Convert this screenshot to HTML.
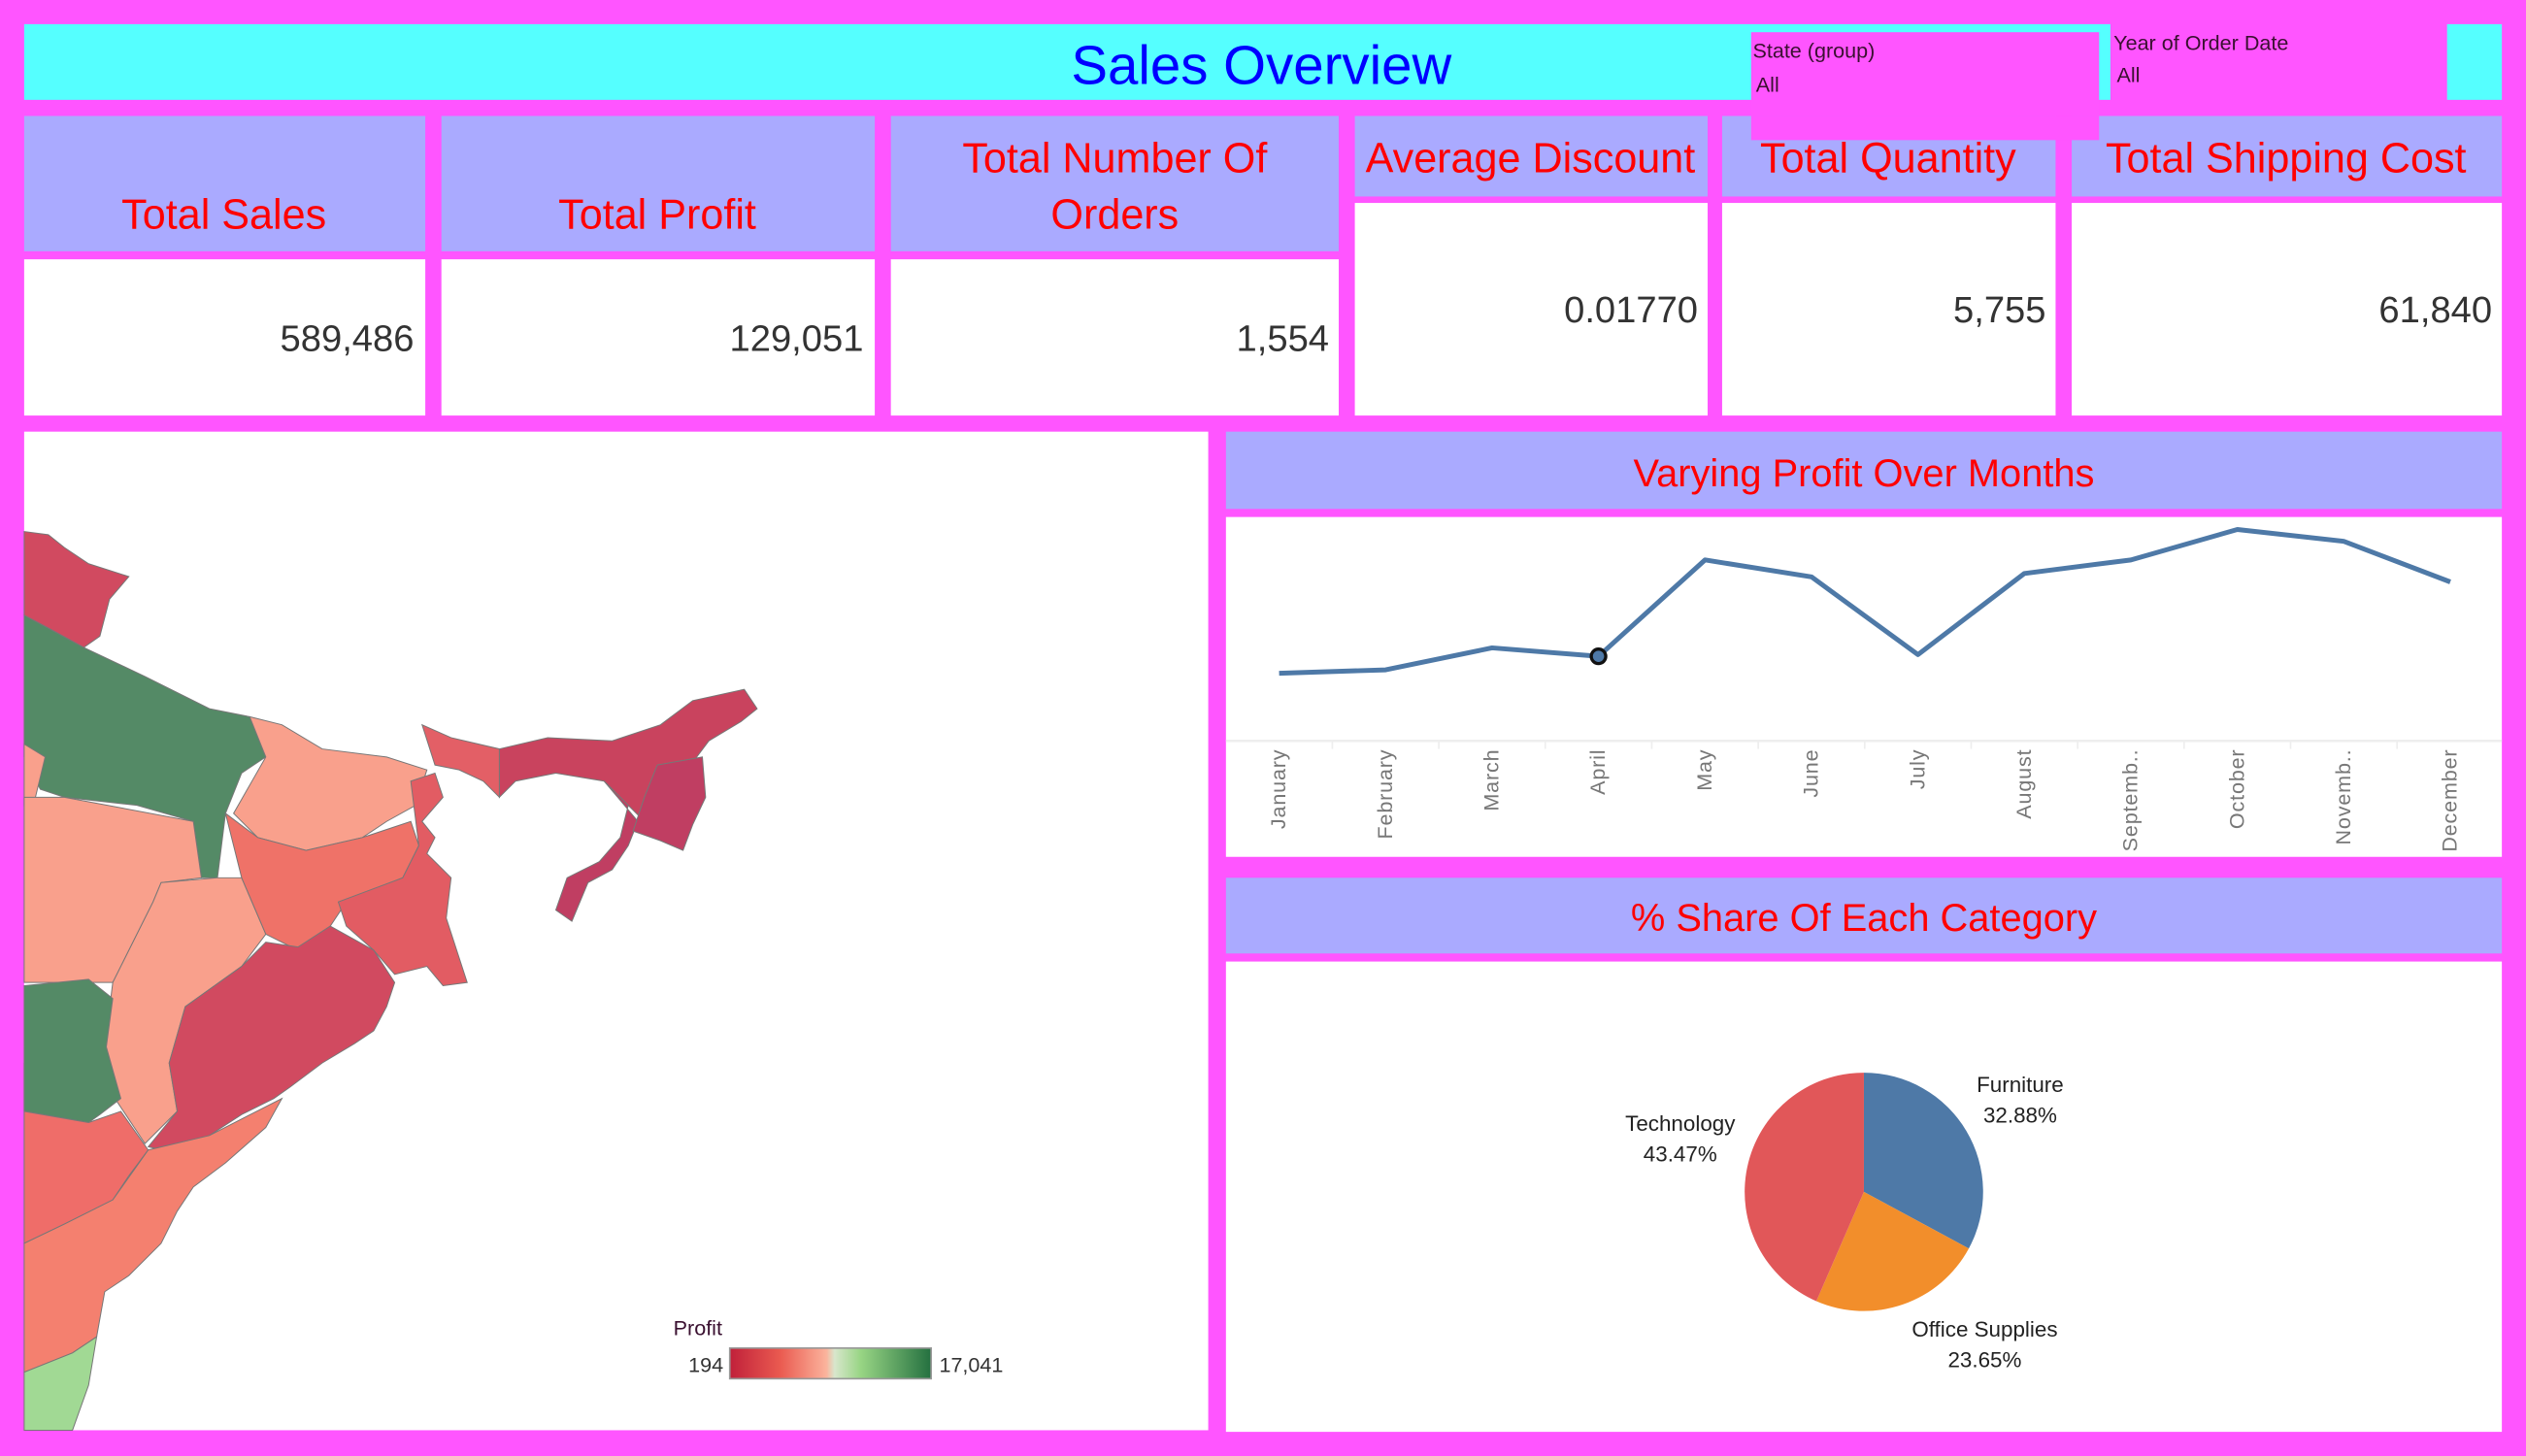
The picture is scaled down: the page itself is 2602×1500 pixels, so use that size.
<!DOCTYPE html>
<html><head><meta charset="utf-8"><style>
html,body{margin:0;padding:0;background:#ff55ff;}
svg{display:block;font-family:"Liberation Sans",sans-serif;}
</style></head><body>
<svg id="dash" width="2602" height="1500" viewBox="0 0 1568 904" preserveAspectRatio="none" xmlns="http://www.w3.org/2000/svg">
<rect x="0" y="0" width="1568" height="904" fill="#ff55ff"/>
<g>
<rect x="15" y="15" width="1295" height="47" fill="#55ffff"/>
<rect x="1519" y="15" width="34" height="47" fill="#55ffff"/>
<text x="783" y="52" text-anchor="middle" font-size="34" fill="#0000ff">Sales Overview</text>
<g>
<rect x="1087" y="20" width="216" height="67" fill="#ff55ff"/>
<text x="1088" y="36" font-size="13" fill="#3a1030">State (group)</text>
<text x="1090" y="57" font-size="13" fill="#3a1030">All</text>
</g>
<g>
<text x="1312" y="31" font-size="13" fill="#3a1030">Year of Order Date</text>
<text x="1314" y="51" font-size="13" fill="#3a1030">All</text>
</g>
</g>
<g font-size="26" fill="#ff0000">
<g>
<rect x="15" y="72" width="249" height="84" fill="#aaaaff"/><rect x="15" y="161" width="249" height="97" fill="#fff"/>
<text x="139" y="142" text-anchor="middle" fill="#ff0000">Total Sales</text>
<text x="257" y="218" text-anchor="end" font-size="23" fill="#333">589,486</text></g>
<g>
<rect x="274" y="72" width="269" height="84" fill="#aaaaff"/><rect x="274" y="161" width="269" height="97" fill="#fff"/>
<text x="408" y="142" text-anchor="middle" fill="#ff0000">Total Profit</text>
<text x="536" y="218" text-anchor="end" font-size="23" fill="#333">129,051</text></g>
<g>
<rect x="553" y="72" width="278" height="84" fill="#aaaaff"/><rect x="553" y="161" width="278" height="97" fill="#fff"/>
<text x="692" y="107" text-anchor="middle" fill="#ff0000">Total Number Of</text>
<text x="692" y="142" text-anchor="middle" fill="#ff0000">Orders</text>
<text x="825" y="218" text-anchor="end" font-size="23" fill="#333">1,554</text></g>
<g>
<rect x="841" y="72" width="219" height="50" fill="#aaaaff"/><rect x="841" y="126" width="219" height="132" fill="#fff"/>
<text x="950" y="107" text-anchor="middle" fill="#ff0000">Average Discount</text>
<text x="1054" y="200" text-anchor="end" font-size="23" fill="#333">0.01770</text></g>
<g>
<rect x="1069" y="72" width="207" height="50" fill="#aaaaff"/><rect x="1069" y="126" width="207" height="132" fill="#fff"/>
<text x="1172" y="107" text-anchor="middle" fill="#ff0000">Total Quantity</text>
<text x="1270" y="200" text-anchor="end" font-size="23" fill="#333">5,755</text></g>
<g>
<rect x="1286" y="72" width="267" height="50" fill="#aaaaff"/><rect x="1286" y="126" width="267" height="132" fill="#fff"/>
<text x="1419" y="107" text-anchor="middle" fill="#ff0000">Total Shipping Cost</text>
<text x="1547" y="200" text-anchor="end" font-size="23" fill="#333">61,840</text></g>
<rect x="1087" y="72" width="216" height="15" fill="#ff55ff"/>
</g>
<g>
<rect x="15" y="268" width="735" height="620" fill="#fff"/>
<g stroke="#777" stroke-width="0.6">
<polygon fill="#d14a60" points="15,330 30,332 40,340 55,350 80,358 68,372 62,395 52,402 30,390 15,382"/>
<polygon fill="#548a66" points="15,382 30,390 52,402 90,420 130,440 155,445 165,470 150,480 140,505 135,545 125,545 120,510 85,500 40,495 25,490 15,470"/>
<polygon fill="#f9a08c" points="15,462 28,470 22,495 15,500"/>
<polygon fill="#f9a08c" points="155,445 175,450 200,465 240,470 265,478 258,500 240,510 225,520 190,528 160,520 145,505 165,470"/>
<polygon fill="#f9a08c" points="15,495 40,495 120,510 125,545 100,548 95,560 75,600 70,610 15,610"/>
<polygon fill="#f9a08c" points="100,548 135,545 150,545 165,580 150,600 115,625 105,660 110,690 90,710 70,680 65,650 70,610 75,600 95,560"/>
<polygon fill="#ef7268" points="140,505 160,520 190,528 225,520 255,510 260,525 250,545 215,560 205,575 185,590 165,580 150,545"/>
<polygon fill="#e25c63" points="255,485 270,480 275,495 262,510 270,520 265,530 280,545 277,570 290,610 275,612 265,600 245,605 232,590 215,575 210,560 250,545 260,525"/>
<polygon fill="#d14a60" points="150,600 165,585 185,588 205,575 232,590 245,610 240,625 232,640 220,648 200,660 180,675 170,682 150,692 130,705 105,715 92,712 110,690 105,660 115,625"/>
<polygon fill="#548a66" points="15,612 55,608 70,620 66,650 75,682 62,692 55,697 15,690"/>
<polygon fill="#ef6d69" points="15,660 15,690 55,697 75,690 92,714 80,730 70,745 40,760 15,772"/>
<polygon fill="#f4806f" points="15,772 40,760 70,745 92,714 130,705 175,682 165,700 140,722 120,737 110,752 100,772 80,792 65,802 60,830 45,840 15,852"/>
<polygon fill="#a1d994" points="15,852 45,840 60,830 55,860 45,888 15,888"/>
<polygon fill="#e35f66" points="262,450 280,458 310,465 310,495 300,485 285,478 270,475"/>
<polygon fill="#c9435e" points="310,465 340,458 380,460 410,450 430,435 462,428 470,440 460,448 440,460 425,480 415,500 400,510 390,500 375,485 345,480 320,485 310,495"/>
<polygon fill="#c03e62" points="375,485 390,500 385,520 372,535 352,545 345,565 355,572 365,548 380,540 390,525 396,510"/>
<polygon fill="#c03e62" points="408,475 436,470 438,495 430,512 424,528 410,522 393,516 400,495"/>
</g>
<defs><linearGradient id="pg" x1="0" x2="1"><stop offset="0" stop-color="#c0203a"/><stop offset="0.25" stop-color="#ea5a50"/><stop offset="0.48" stop-color="#fbb39c"/><stop offset="0.52" stop-color="#d8e6cc"/><stop offset="0.65" stop-color="#98d584"/><stop offset="1" stop-color="#247040"/></linearGradient></defs>
<g>
<text x="418" y="829" font-size="13" fill="#3a1030">Profit</text>
<text x="449" y="852" font-size="13" text-anchor="end" fill="#333">194</text>
<rect x="453" y="837" width="125" height="19" fill="url(#pg)" stroke="#999"/>
<text x="583" y="852" font-size="13" fill="#333">17,041</text>
</g>
</g>
<g>
<rect x="761" y="268" width="792" height="48" fill="#aaaaff"/>
<text x="1157" y="302" text-anchor="middle" font-size="24" fill="#ff0000">Varying Profit Over Months</text>
<rect x="761" y="321" width="792" height="211" fill="#fff"/>
<line x1="761" y1="460" x2="1553" y2="460" stroke="#eee" stroke-width="1.5"/>
<g id="lineLayer"></g>
</g>
<g>
<rect x="761" y="545" width="792" height="47" fill="#aaaaff"/>
<text x="1157" y="578" text-anchor="middle" font-size="24" fill="#ff0000">% Share Of Each Category</text>
<rect x="761" y="597" width="792" height="292" fill="#fff"/>
<g id="pieLayer"></g>
</g>
</svg>
<script>
const months = ["January","February","March","April","May","June","July","August","Septemb..","October","Novemb..","December"];
const profitValues = [8.0, 8.2, 9.5, 9.0, 14.7, 13.7, 9.1, 13.9, 14.7, 16.5, 15.8, 13.4];
const pieCategories = ["Furniture","Office Supplies","Technology"];
const pieShares = [32.88, 23.65, 43.47];
const pieColors = ["#4e79a7","#f28e2b","#e15759"];

const NS = "http://www.w3.org/2000/svg";
function mk(tag, attrs, parent){const e=document.createElementNS(NS,tag);for(const k in attrs)e.setAttribute(k,attrs[k]);parent.appendChild(e);return e;}
function xScale(i){return 794 + i*(1521-794)/(months.length-1);}
function yScale(v){return 460 - (v-4)*10.5;}

const L = document.getElementById("lineLayer");
for(let i=1;i<months.length;i++){
  const t = mk("line",{x1:(xScale(i-1)+xScale(i))/2,y1:460,x2:(xScale(i-1)+xScale(i))/2,y2:465,stroke:"#eee"},L);
  
  
}
const pts = profitValues.map((v,i)=>xScale(i)+","+yScale(v)).join(" ");
const pl = mk("polyline",{points:pts,fill:"none",stroke:"#4e79a7","stroke-width":3,"stroke-linejoin":"round"},L);


const hp = mk("circle",{cx:xScale(3),cy:yScale(profitValues[3]),r:4.5,fill:"#4e79a7",stroke:"#111","stroke-width":2},L);


months.forEach((m,i)=>{
  const x=xScale(i)+4, y=465;
  const t = mk("text",{x:x,y:y,transform:`rotate(-90 ${x} ${y})`,"text-anchor":"end","font-size":13,fill:"#777","letter-spacing":"0.5"},L);
  t.textContent=m;
  
  
});

const P = document.getElementById("pieLayer");
const cx=1157, cy=740, r=74;
const total = pieShares.reduce((a,b)=>a+b,0);
let ang=0;
const order=[0,1,2];
order.forEach(i=>{
  const a0=ang, a1=ang+pieShares[i]/total*2*Math.PI; ang=a1;
  const x0=cx+r*Math.sin(a0), y0=cy-r*Math.cos(a0), x1=cx+r*Math.sin(a1), y1=cy-r*Math.cos(a1);
  const large=(a1-a0)>Math.PI?1:0;
  const p = mk("path",{d:`M${cx},${cy} L${x0},${y0} A${r},${r} 0 ${large} 1 ${x1},${y1} Z`,fill:pieColors[i]},P);
  
  
});
const labelPos=[[1254,678,1254,697],[1232,830,1232,849],[1043,702,1043,721]];
pieCategories.forEach((c,i)=>{
  const [x1,y1,x2,y2]=labelPos[i];
  const t1=mk("text",{x:x1,y:y1,"text-anchor":"middle","font-size":13.5,fill:"#222"},P); t1.textContent=c;
  
  
  const t2=mk("text",{x:x2,y:y2,"text-anchor":"middle","font-size":13.5,fill:"#222"},P); t2.textContent=pieShares[i].toFixed(2)+"%";
  
  
});
</script>
</body></html>
